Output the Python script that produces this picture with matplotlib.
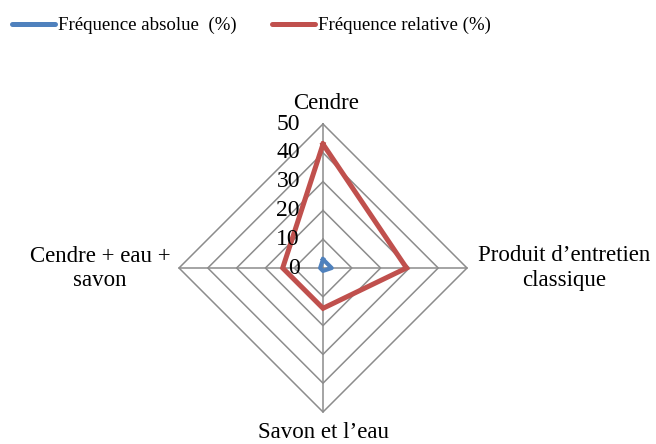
import numpy as np
import matplotlib
matplotlib.use("Agg")
import matplotlib.pyplot as plt
from matplotlib.lines import Line2D

plt.rcParams['font.family'] = ['Liberation Serif', 'DejaVu Serif']

categories = ["Cendre", "Produit d’entretien\nclassique", "Savon et l’eau", "Cendre + eau +\nsavon"]
freq_absolue = [3, 3, 1, 1]
freq_relative = [43, 29, 14, 14]
ticks = [0, 10, 20, 30, 40, 50]

blue = "#4F81BD"
red = "#C0504D"
grid_col = "#8C8C8C"

# pixel geometry of the reference
W, H = 656, 444
cx, cy = 323, 268
scale = 144 / 50.0  # px per unit

fig = plt.figure(figsize=(W / 100, H / 100), dpi=100)
ax = fig.add_axes([0, 0, 1, 1])
ax.set_xlim(-cx / scale, (W - cx) / scale)
ax.set_ylim(-(H - cy) / scale, cy / scale)
ax.axis("off")

angles = np.pi / 2 - np.arange(len(categories)) * 2 * np.pi / len(categories)


def to_xy(vals):
    vals = np.asarray(vals, dtype=float)
    x = vals * np.cos(angles)
    y = vals * np.sin(angles)
    return np.append(x, x[0]), np.append(y, y[0])


# grid rings
for t in ticks[1:]:
    gx, gy = to_xy([t] * len(categories))
    ax.plot(gx, gy, color=grid_col, lw=1.1, zorder=1)
# spokes
rmax = ticks[-1]
for a in angles:
    ax.plot([0, rmax * np.cos(a)], [0, rmax * np.sin(a)], color=grid_col, lw=1.1, zorder=1)

# tick labels along the top axis
for t in ticks:
    ax.text(-8.0, t, str(t), ha="right", va="center", fontsize=17, zorder=4)

# series
bx, by = to_xy(freq_absolue)
ax.plot(bx, by, color=blue, lw=3, zorder=3, solid_joinstyle="round")
rx, ry = to_xy(freq_relative)
ax.plot(rx, ry, color=red, lw=3.6, zorder=3, solid_joinstyle="miter")

# category labels
lab_fs = 16.5
ax.text((326 - cx) / scale, (cy - 103) / scale, categories[0], ha="center", va="center", fontsize=lab_fs)
ax.text((564 - cx) / scale, (cy - 268) / scale, categories[1], ha="center", va="center",
        fontsize=lab_fs, linespacing=1.2)
ax.text(0, -(432 - cy) / scale, categories[2], ha="center", va="center", fontsize=lab_fs)
ax.text(-(cx - 100) / scale, (cy - 268.5) / scale, categories[3], ha="center", va="center",
        fontsize=lab_fs, linespacing=1.2)

# legend
handles = [Line2D([], [], color=blue, lw=3.6, solid_capstyle="round"),
           Line2D([], [], color=red, lw=3.6, solid_capstyle="round")]
fig.legend(handles, ["Fréquence absolue  (%)", "Fréquence relative (%)"],
           loc="upper left", bbox_to_anchor=(-0.008, 1.0), ncol=2, frameon=False,
           fontsize=13.6, handlelength=2.3, handletextpad=0.15, columnspacing=1.85)

fig.savefig("out.png", dpi=100)
